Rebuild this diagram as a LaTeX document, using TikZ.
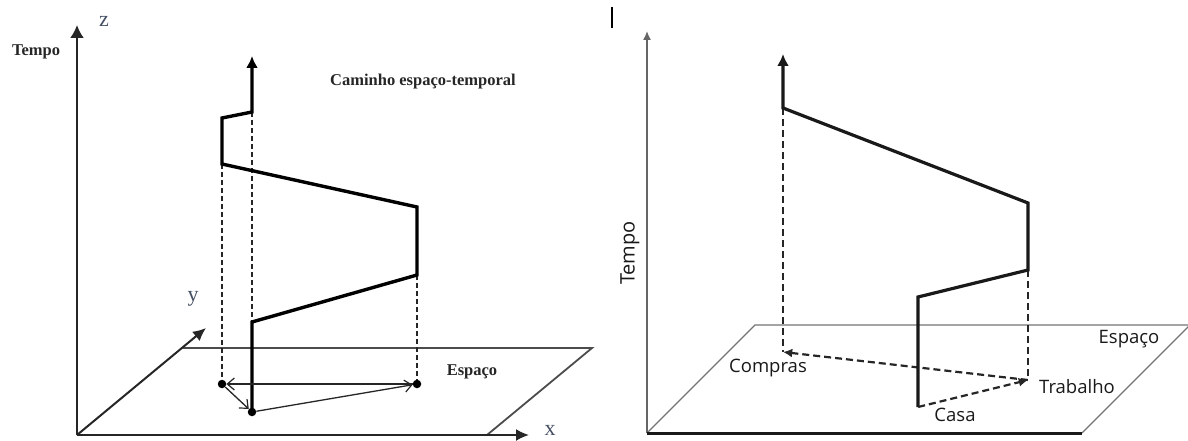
\documentclass[tikz,border=0pt]{standalone}
\usepackage{fontspec}
\setmainfont{Liberation Serif}
\newfontfamily\sansf{Open Sans}
\usetikzlibrary{arrows.meta}
\definecolor{axlab}{RGB}{70,80,100}
\begin{document}
\begin{tikzpicture}[x=1pt,y=-1pt,
  axisL/.style={line width=2pt, draw=black!85},
  planeL/.style={line width=1.8pt, draw=black!70},
  pathL/.style={line width=3.4pt, draw=black, line join=miter},
  dashL/.style={line width=2pt, draw=black!85, dash pattern=on 5pt off 3pt},
  thinL/.style={line width=1.3pt, draw=black!85},
  openhead/.style={-{Straight Barb[length=7pt,width=12pt,line width=1.2pt]}},
  dotL/.style={circle, fill=black, inner sep=0pt, minimum size=8.5pt},
  boldlab/.style={font=\fontsize{16.5}{18}\bfseries\selectfont, text=black!85, inner sep=0pt},
  axlabel/.style={font=\fontsize{22}{24}\selectfont, text=axlab, inner sep=0pt},
  axisR/.style={line width=1.5pt, draw=black!60},
  planeR/.style={line width=1.2pt, draw=black!55},
  pathR/.style={line width=3.2pt, draw=black!90, line join=miter},
  dashR/.style={line width=2.2pt, draw=black!85, dash pattern=on 7pt off 4pt},
  sanslab/.style={font=\sansf\fontsize{18.5}{20}\selectfont, text=black!90, inner sep=0pt},
  ptR/.style={inner sep=0pt, minimum size=0pt}
]
\useasboundingbox (0,0) rectangle (1188,441);

% ---------------- Left panel ----------------
\coordinate (O) at (77,435);
\coordinate (Ztip) at (77,25);
\coordinate (Xtip) at (529,435);
\coordinate (Ytip) at (206,328);
\coordinate (PBR) at (487,435);
\coordinate (PTR) at (592,348);
\coordinate (PTL) at (183,348);

\draw[planeL] (PBR) -- (PTR) -- (PTL);
\draw[axisL,-{Latex[length=13pt,width=14pt]}] (O) -- (Ztip);
\draw[axisL,-{Latex[length=13pt,width=12pt]}] (O) -- (Xtip);
\draw[axisL,-{Latex[length=13pt,width=12pt]}] (O) -- (Ytip);

\node[axlabel] (zl) at (104,21) {z};
\node[axlabel] (yl) at (193,299) {y};
\node[axlabel] (xl) at (550,430) {x};
\node[boldlab] (tempoL) at (36,52) {Tempo};
\node[boldlab] (espL) at (472,372) {Espaço};
\node[boldlab] (caminho) at (423,82) {Caminho espaço-temporal};

\node[dotL] (H) at (252,412) {};
\node[dotL] (L) at (222,384) {};
\node[dotL] (W) at (417,384) {};

\coordinate (a1) at (252,322);
\coordinate (a2) at (417,275);
\coordinate (a3) at (417,207);
\coordinate (a4) at (222,164);
\coordinate (a5) at (222,118);
\coordinate (a6) at (252,112);
\coordinate (a7) at (252,56);

\draw[dashL] (a4) -- (L);
\draw[dashL] (a6) -- (a1);
\draw[dashL] (a2) -- (W);

\draw[pathL,-{Latex[length=12pt,width=12pt]}] (H.center) -- (a1) -- (a2) -- (a3) -- (a4) -- (a5) -- (a6) -- (a7);

\draw[thinL,openhead] (H) -- (W);
\draw[thinL,openhead] (W) -- (L);
\draw[thinL,openhead] (L) -- (H);

% ---------------- Right panel ----------------
\coordinate (mark1) at (612,7);
\coordinate (mark2) at (612,28);
\draw[line width=1.3pt] (mark1) -- (mark2);

\coordinate (OR) at (647,433);
\coordinate (TtipR) at (647,31);
\coordinate (BR) at (1082,433);
\coordinate (QTR) at (1190,325);
\coordinate (QTL) at (755,325);

\draw[planeR] (OR) -- (QTL) -- (QTR) -- (BR);
\draw[axisR,-{Latex[length=9pt,width=8pt]}] (OR) -- (TtipR);
\draw[line width=3pt, draw=black!90] (OR) -- (BR);

\node[sanslab, font=\sansf\fontsize{20}{22}\selectfont, rotate=90] (tempoR) at (630,253) {Tempo};

\node[ptR] (casa) at (918,407) {};
\node[ptR] (trab) at (1028,380) {};
\node[ptR] (comp) at (783,352) {};

\coordinate (b1) at (918,297);
\coordinate (b2) at (1028,270);
\coordinate (b3) at (1028,203);
\coordinate (b4) at (783,108);
\coordinate (b5) at (783,54);

\draw[dashR] (b4) -- (comp);
\draw[dashR] (b2) -- (trab);
\draw[dashR,-{Latex[length=9pt,width=9pt]}] (casa) -- (trab);
\draw[dashR,-{Latex[length=9pt,width=9pt]}] (trab) -- (comp);

\draw[pathR,-{Latex[length=12pt,width=12pt]}] (casa.center) -- (b1) -- (b2) -- (b3) -- (b4) -- (b5);

\node[sanslab] (compl) at (768,368) {Compras};
\node[sanslab] (trabl) at (1077,387) {Trabalho};
\node[sanslab] (casal) at (955,415) {Casa};
\node[sanslab] (espR) at (1129,339) {Espaço};
\end{tikzpicture}
\end{document}
